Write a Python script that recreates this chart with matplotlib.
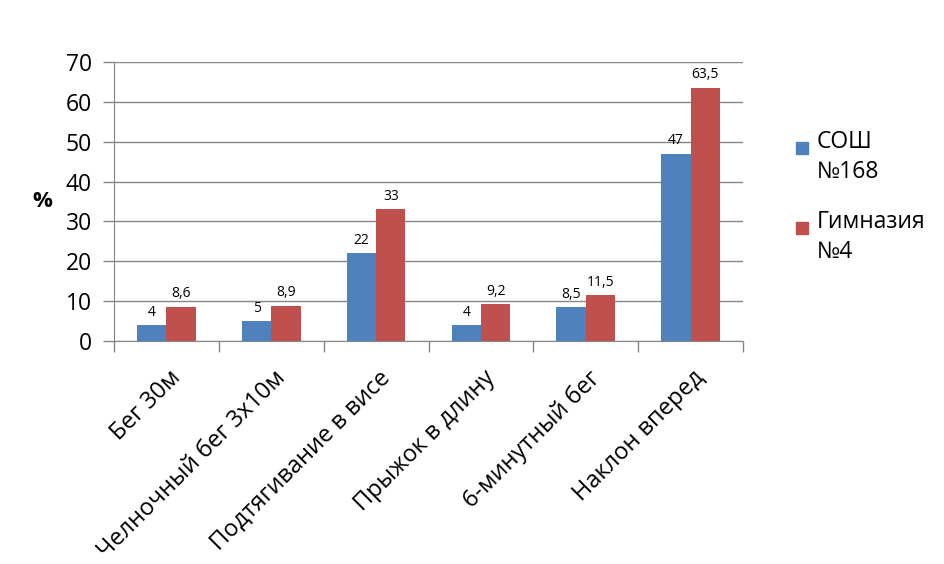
import matplotlib.pyplot as plt
import numpy as np
from matplotlib.patches import Rectangle

plt.rcParams['font.family'] = ['Open Sans', 'DejaVu Sans']

# Data
categories = ['Бег 30м', 'Челночный бег 3х10м', 'Подтягивание в висе',
              'Прыжок в длину', '6-минутный бег', 'Наклон вперед']
school_168 = [4, 5, 22, 4, 8.5, 47]
gymnasium_4 = [8.6, 8.9, 33, 9.2, 11.5, 63.5]
series_names = ['СОШ\n№168', 'Гимназия\n№4']
blue = '#4F81BD'
red = '#C0504D'

W, H = 944, 564
fig = plt.figure(figsize=(W / 100, H / 100), dpi=100)
ax = fig.add_axes([114 / W, 1 - 341 / H, (743 - 114) / W, (341 - 62) / H])

x = np.arange(len(categories))
w = 0.28
b1 = ax.bar(x - w / 2, school_168, w, color=blue, zorder=3)
b2 = ax.bar(x + w / 2, gymnasium_4, w, color=red, zorder=3)

def fmt(v):
    return ('%g' % v).replace('.', ',')

ax.bar_label(b1, labels=[fmt(v) for v in school_168], padding=4, fontsize=10)
ax.bar_label(b2, labels=[fmt(v) for v in gymnasium_4], padding=4, fontsize=10)

ax.set_xlim(-0.5, len(categories) - 0.5)
ax.set_ylim(0, 70)
ax.set_yticks(range(0, 71, 10))
ax.yaxis.grid(True, color='#868686', linewidth=1, zorder=0)
ax.tick_params(axis='y', labelsize=16.5, length=8, width=1, color='#868686', pad=8)

# category boundary ticks, labels at category centres
ax.set_xticks(np.arange(-0.5, len(categories), 1))
ax.set_xticklabels([])
ax.set_xticks(x + 0.02, minor=True)
ax.set_xticklabels(categories, minor=True, rotation=45, ha='right',
                   rotation_mode='anchor', fontsize=17)
ax.tick_params(axis='x', which='major', length=8, width=1, color='#868686')
ax.tick_params(axis='x', which='minor', length=0, pad=18)

for side in ['top', 'right']:
    ax.spines[side].set_visible(False)
for side in ['left', 'bottom']:
    ax.spines[side].set_color('#868686')

ax.set_ylabel('%', rotation=0, fontsize=16, fontweight='bold', labelpad=17,
              va='center')

# legend: square next to the first line of each two-line label
legend_colors = [blue, red]
legend_base = [148, 228]
for name, col, base in zip(series_names, legend_colors, legend_base):
    fig.patches.append(Rectangle((796 / W, 1 - (base + 6) / H), 12 / W, 12 / H,
                                 transform=fig.transFigure, color=col))
    for i, line in enumerate(name.split('\n')):
        fig.text(817 / W, 1 - (base + 30 * i) / H, line, fontsize=16.5,
                 va='baseline', ha='left')

fig.savefig('out.png', dpi=100)
